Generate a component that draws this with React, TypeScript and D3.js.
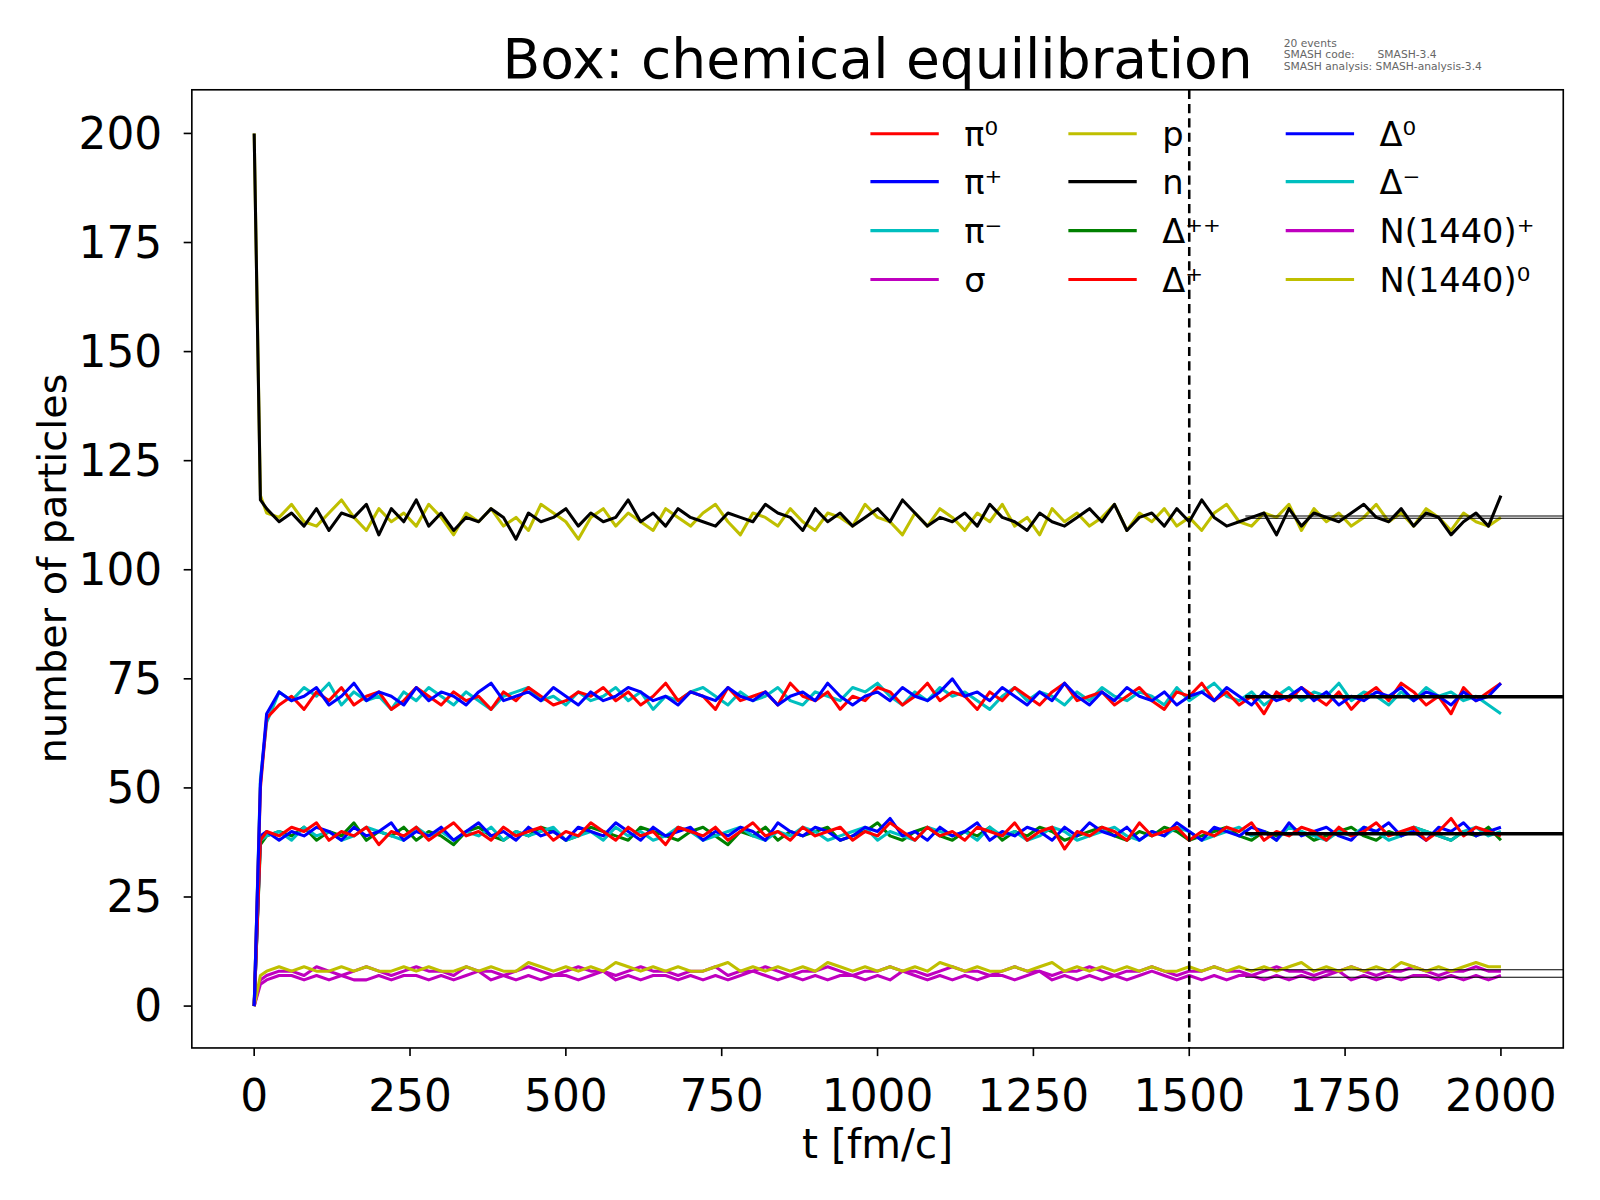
import React from 'react';
import * as d3 from 'd3';

// time grid: 0, 10, 20, then every 20 fm/c up to 2000
const times = [0, 10, 20, ...d3.range(40, 2001, 20)];

const pData = [200,117,113,
112,115,111,110,113,116,112,109,114,111,113,
110,115,112,108,113,111,114,110,112,109,115,
113,111,107,112,114,110,113,111,109,114,112,
110,113,115,111,108,113,112,110,114,111,109,
113,112,110,115,112,111,108,113,110,114,112,
109,113,111,115,110,112,108,114,111,113,110,
112,115,109,113,111,114,110,112,109,113,115,
111,110,113,112,115,109,114,111,113,110,112,
115,111,113,110,114,112,109,113,111,110,112];

const nData = [200,116,114,
111,113,110,114,109,113,112,115,108,114,111,
116,110,113,109,112,111,114,112,107,113,111,
112,114,110,113,111,112,116,111,113,110,114,
112,111,110,113,112,111,115,113,112,109,114,
111,113,110,112,114,111,116,113,110,112,111,
113,110,115,112,111,109,113,111,110,112,114,
111,115,109,112,113,110,114,111,116,112,110,
111,112,113,108,114,110,113,112,111,113,115,
112,111,114,110,113,112,108,111,113,110,117];

const pi0Data = [0,50,66,
69,71,68,72,70,73,69,71,72,68,70,
73,71,69,72,70,71,68,72,70,73,71,
69,70,72,71,73,70,72,69,71,74,70,
72,71,68,73,70,71,72,69,74,71,70,
72,68,71,70,73,72,69,71,74,70,72,
71,68,72,70,73,71,69,72,74,70,71,
72,69,71,73,70,68,72,71,74,70,72,
69,71,67,72,70,73,71,69,72,68,71,
73,70,74,72,69,71,67,73,70,72,74];

const piPlusData = [0,51,67,
72,70,71,73,69,71,74,70,72,71,69,
73,70,72,71,69,72,74,70,71,72,70,
73,71,69,72,70,71,73,72,70,71,69,
72,71,70,73,71,70,72,69,71,72,70,
74,71,69,71,72,70,73,71,70,72,75,
71,72,70,73,71,69,72,70,74,71,69,
72,70,73,71,70,72,69,71,72,70,73,
71,69,72,70,71,73,70,72,69,71,70,
72,71,73,70,72,71,69,72,70,71,74];

const piMinusData = [0,52,65,
72,70,73,71,74,69,72,70,71,68,72,
70,73,71,69,72,70,68,71,72,73,70,
71,69,72,70,71,73,70,72,68,71,70,
72,73,71,69,72,70,71,73,70,69,72,
71,70,73,72,74,71,69,72,70,73,71,
72,70,68,71,73,70,72,71,69,72,70,
73,71,70,72,71,69,73,70,72,74,71,
70,72,69,71,73,70,72,71,74,70,72,
71,69,72,70,73,71,72,70,71,69,67];

const dppData = [0,37,39,
40,39,41,38,40,39,42,38,40,39,41,
38,40,39,37,40,41,39,38,40,39,41,
40,38,39,41,40,39,38,41,40,39,38,
40,41,39,37,40,39,41,38,40,39,40,
41,38,39,40,42,39,38,40,41,39,38,
40,39,41,38,40,39,41,40,38,39,40,
41,39,38,40,39,41,40,38,39,40,41,
39,38,40,39,41,40,38,39,40,41,39,
38,40,39,41,40,39,38,40,39,41,38];

const dpData = [0,38,40,
39,41,40,42,38,40,39,41,37,40,39,
41,38,40,42,39,40,38,41,39,40,41,
38,40,39,42,40,38,41,39,40,37,41,
40,39,41,38,40,42,39,40,38,41,39,
40,41,38,40,39,42,40,38,41,39,40,
38,41,40,39,42,38,40,41,36,40,39,
41,40,38,42,39,40,41,38,40,39,41,
40,42,38,40,39,41,40,38,41,39,40,
42,39,40,41,38,40,43,39,41,40,39];

const d0Data = [0,39,40,
38,40,39,41,40,38,41,39,40,42,38,
40,39,41,38,40,42,39,40,38,41,39,
40,38,41,40,39,42,40,38,41,39,40,
41,38,40,39,41,40,38,42,40,39,41,
40,38,39,41,40,43,39,40,38,41,39,
40,42,38,40,39,41,40,38,41,39,42,
40,39,41,38,40,39,42,40,38,41,40,
39,41,40,38,42,39,40,41,39,38,41,
40,42,39,40,38,41,40,42,39,40,41];

const dmData = [0,38,39,
40,38,41,39,40,38,39,41,40,39,38,
41,39,40,38,40,39,41,38,40,39,40,
41,38,39,40,38,41,39,40,38,39,41,
40,38,39,40,41,39,38,40,39,41,40,
38,39,40,41,38,40,39,38,41,40,39,
40,38,41,39,40,38,39,41,40,38,39,
40,41,39,38,40,39,41,40,38,39,40,
41,39,40,38,41,40,39,38,40,39,41,
40,38,39,41,40,39,38,40,41,39,40];

const sigmaData = [0,5,6,
7,7,6,7,6,7,6,6,7,6,7,
7,6,7,6,7,8,6,7,6,7,6,
7,7,6,7,8,6,7,6,7,7,6,
7,6,7,6,7,8,7,6,7,6,7,
6,7,7,6,7,6,8,7,6,7,6,
7,6,7,7,6,7,8,6,7,6,7,
6,7,6,7,8,7,6,7,6,7,6,
7,7,6,7,6,7,6,7,8,6,7,
6,7,6,7,7,6,7,6,7,6,7];

const nStarPlusData = [0,6,7,
8,8,7,9,8,7,8,9,8,7,8,
9,8,8,7,9,8,8,7,8,9,8,
7,8,9,8,8,7,8,9,8,8,7,
8,8,9,7,8,8,9,8,7,8,8,
9,8,7,8,8,9,8,8,7,8,9,
8,8,7,8,9,8,8,7,8,8,9,
8,7,8,8,9,8,7,8,8,9,8,
8,7,8,9,8,8,7,8,8,9,8,
7,8,8,9,8,7,8,8,9,8,8];

const nStarZeroData = [0,7,8,
9,8,9,8,8,9,8,9,8,8,9,
8,9,8,8,9,8,9,8,8,10,9,
8,9,8,9,8,10,9,8,9,8,9,
8,8,9,10,8,9,8,9,8,9,8,
10,9,8,9,8,9,8,9,8,10,9,
8,9,8,8,9,8,9,10,8,9,8,
9,8,9,8,9,8,8,9,8,9,8,
9,8,9,8,9,10,8,9,8,9,8,
9,8,10,9,8,9,8,9,10,9,9];

const series = [
  { label: 'π⁰', color: '#ff0000', values: pi0Data },
  { label: 'π⁺', color: '#0000ff', values: piPlusData },
  { label: 'π⁻', color: '#00bfbf', values: piMinusData },
  { label: 'σ', color: '#bf00bf', values: sigmaData },
  { label: 'p', color: '#bfbf00', values: pData },
  { label: 'n', color: '#000000', values: nData },
  { label: 'Δ⁺⁺', color: '#008000', values: dppData },
  { label: 'Δ⁺', color: '#ff0000', values: dpData },
  { label: 'Δ⁰', color: '#0000ff', values: d0Data },
  { label: 'Δ⁻', color: '#00bfbf', values: dmData },
  { label: 'N(1440)⁺', color: '#bf00bf', values: nStarPlusData },
  { label: 'N(1440)⁰', color: '#bfbf00', values: nStarZeroData },
];

// draw order (later on top)
const drawOrder = ['σ', 'N(1440)⁺', 'N(1440)⁰', 'Δ⁺⁺', 'Δ⁻', 'Δ⁰', 'Δ⁺', 'π⁻', 'π⁰', 'π⁺', 'p', 'n'];

// equilibrium expectation lines
const eqValues = [112.3, 111.8, 71.0, 70.8, 39.6, 39.4, 8.3, 6.6];
const eqThick = [false, false, true, true, true, true, false, false];
const eqStart = 1590;

const xTicks = [0, 250, 500, 750, 1000, 1250, 1500, 1750, 2000];
const yTicks = [0, 25, 50, 75, 100, 125, 150, 175, 200];

const FONT = 'DejaVu Sans, sans-serif';

export default function App() {
  const left = 188, right = 1532, top = 88, bottom = 1027;
  const x = d3.scaleLinear().domain([-100, 2100]).range([left, right]);
  const y = d3.scaleLinear().domain([-9.6, 210]).range([bottom, top]);

  const line = (vals: number[]) =>
    d3.line<number>().x((_, i) => x(times[i])).y(v => y(v))(vals.slice(0, times.length)) || '';

  const legendCols = [853, 1047, 1260];
  const legendRows = [131, 178, 226, 274];

  return (
    <svg width={1600} height={1200} style={{ position: 'absolute', left: 0, top: 0, display: 'block' }} fontFamily={FONT}>
      <rect width={1600} height={1200} fill="#fff" />
      <defs>
        <clipPath id="plotClip">
          <rect x={left} y={top} width={right - left} height={bottom - top} />
        </clipPath>
      </defs>
      <g transform={`scale(${1600 / 1568})`}>
        <text x={860} y={76} fontSize={54} textAnchor="middle" fill="#000">Box: chemical equilibration</text>
        <g fontSize={10.5} fill="#666">
          <text x={1258} y={46}>20 events</text>
          <text x={1258} y={57}>SMASH code:</text>
          <text x={1350} y={57}>SMASH-3.4</text>
          <text x={1258} y={69}>SMASH analysis: SMASH-analysis-3.4</text>
        </g>

        <g clipPath="url(#plotClip)">
          {drawOrder.map(lbl => {
            const s = series.find(d => d.label === lbl)!;
            return <path key={lbl} d={line(s.values)} fill="none" stroke={s.color} strokeWidth={3} strokeLinejoin="round" />;
          })}
          {eqValues.map((v, i) => (
            <line key={i} x1={x(eqStart)} x2={right} y1={y(v)} y2={y(v)} stroke="#000" strokeWidth={eqThick[i] ? 2.5 : 1} />
          ))}
          <line x1={x(1500)} x2={x(1500)} y1={top} y2={bottom} stroke="#000" strokeWidth={2.5} strokeDasharray="9,5" />
        </g>

        <rect x={left} y={top} width={right - left} height={bottom - top} fill="none" stroke="#000" strokeWidth={1.6} />

        {xTicks.map(t => (
          <g key={t}>
            <line x1={x(t)} x2={x(t)} y1={bottom} y2={bottom + 8} stroke="#000" strokeWidth={1.6} />
            <text x={x(t)} y={bottom + 62} fontSize={43} textAnchor="middle">{t}</text>
          </g>
        ))}
        {yTicks.map(t => (
          <g key={t}>
            <line x1={left - 8} x2={left} y1={y(t)} y2={y(t)} stroke="#000" strokeWidth={1.6} />
            <text x={left - 29} y={y(t) + 15} fontSize={43} textAnchor="end">{t}</text>
          </g>
        ))}
        <text x={860} y={1135} fontSize={40} textAnchor="middle">t [fm/c]</text>
        <text transform="translate(65,557) rotate(-90)" fontSize={39} textAnchor="middle">number of particles</text>

        {series.map((s, i) => {
          const cx = legendCols[Math.floor(i / 4)];
          const cy = legendRows[i % 4];
          return (
            <g key={s.label}>
              <line x1={cx} x2={cx + 67} y1={cy} y2={cy} stroke={s.color} strokeWidth={3} />
              <text x={cx + 92} y={cy + 12} fontSize={33}>{s.label}</text>
            </g>
          );
        })}
      </g>
    </svg>
  );
}
